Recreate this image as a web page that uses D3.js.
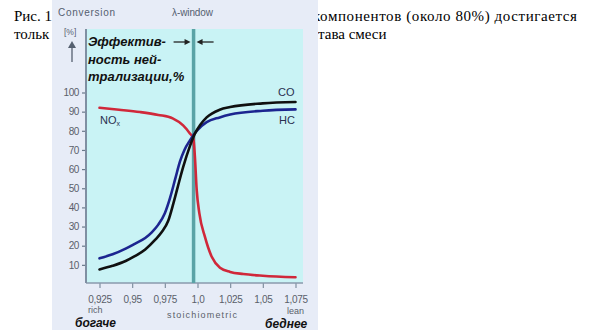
<!DOCTYPE html>
<html><head><meta charset="utf-8">
<script src="https://cdn.jsdelivr.net/npm/d3@7"></script>
<style>body{margin:0;background:#fff}svg{display:block}</style>
</head><body><svg id="c" width="591" height="330"></svg>
<script>
// ---- data ----
const xTicks = [0.925, 0.95, 0.975, 1.0, 1.025, 1.05, 1.075];
const xTickLabels = ["0,925", "0,95", "0,975", "1,0", "1,025", "1,05", "1,075"];
const yTicks = [10, 20, 30, 40, 50, 60, 70, 80, 90, 100];
const lambdaWindow = 0.997;

const lambdaCO = [0.925, 0.935, 0.945, 0.952, 0.96, 0.9675, 0.9725, 0.9776, 0.9815, 0.985, 0.989, 0.9942, 0.998, 1.002, 1.007, 1.017, 1.025, 1.05, 1.075];
const valuesCO = [7.6, 9.5, 12, 14.5, 18, 23, 27, 33, 42, 51, 61, 72, 78.5, 83, 87, 91, 92.4, 94.3, 95];

const lambdaHC = [0.925, 0.935, 0.945, 0.952, 0.96, 0.965, 0.97, 0.975, 0.979, 0.983, 0.9866, 0.99, 0.9942, 0.9994, 1.007, 1.017, 1.025, 1.05, 1.075];
const valuesHC = [13.4, 15.5, 18.5, 21, 24, 27, 31, 37, 45, 55, 64, 70, 75, 80, 84.5, 87, 88.5, 90.5, 91.2];

const lambdaNOx = [0.925, 0.94, 0.956, 0.97, 0.981, 0.989, 0.9942, 0.9968, 0.998, 0.9994, 1.0014, 1.0057, 1.0109, 1.0172, 1.025, 1.035, 1.05, 1.075];
const valuesNOx = [92, 91, 89.8, 88.3, 86.5, 82.8, 78.6, 76, 66.5, 49, 37, 24.6, 14.2, 8.5, 6.3, 5.2, 4.3, 3.5];

// ---- drawing ----
const svg = d3.select("#c");
const serif = "'Liberation Serif','Times New Roman',serif";
const sans = "'Liberation Sans',Arial,sans-serif";

// body text around the picture
const body = svg.append("g").attr("font-family", serif).attr("font-size", 15).attr("fill", "#000");
body.append("text").attr("x", 14).attr("y", 21).text("Рис. 1");
body.append("text").attr("x", 14).attr("y", 39).text("тольк");
body.append("text").attr("x", 313).attr("y", 21).attr("textLength", 264).attr("lengthAdjust", "spacing").text("компонентов (около 80%) достигается");
body.append("text").attr("x", 318).attr("y", 39).text("тава смеси");

// picture background
svg.append("rect").attr("x", 52).attr("y", 0).attr("width", 266).attr("height", 330).attr("fill", "#e7ecf7");

const x = d3.scaleLinear().domain([0.925, 1.075]).range([99.5, 295.5]);
const y = d3.scaleLinear().domain([0, 100]).range([284, 92.5]);

const plotL = 86, plotR = 303, plotT = 29, plotB = 283;
svg.append("rect").attr("x", plotL).attr("y", plotT).attr("width", plotR - plotL).attr("height", plotB - plotT).attr("fill", "#c9f3f5");

// bottom axis
const xa = svg.append("g").attr("transform", `translate(0,${plotB})`)
  .call(d3.axisBottom(x).tickValues(xTicks).tickFormat((d, i) => xTickLabels[i]).tickSize(5).tickPadding(8));
xa.select(".domain").remove();
xa.selectAll("line").attr("stroke", "#8090a0").attr("stroke-width", 1.2);
xa.selectAll("text").attr("font-family", sans).attr("font-size", 10).attr("fill", "#5a5f6a").attr("letter-spacing", -0.3);
svg.append("line").attr("x1", plotL).attr("x2", plotR).attr("y1", plotB).attr("y2", plotB).attr("stroke", "#8a9aac").attr("stroke-width", 1.3);

// left axis
const ya = svg.append("g").attr("transform", `translate(${plotL},0)`)
  .call(d3.axisLeft(y).tickValues(yTicks).tickSize(4).tickPadding(3));
ya.select(".domain").remove();
ya.selectAll("line").attr("stroke", "#6a7a8a").attr("stroke-width", 1.2);
ya.selectAll("text").attr("font-family", sans).attr("font-size", 10).attr("fill", "#5a5f6a").attr("letter-spacing", -0.4);
svg.append("line").attr("x1", plotL).attr("x2", plotL).attr("y1", plotT).attr("y2", plotB).attr("stroke", "#7f8fa2").attr("stroke-width", 2);

// lambda window line
svg.append("line").attr("x1", x(lambdaWindow)).attr("x2", x(lambdaWindow)).attr("y1", plotT).attr("y2", plotB)
  .attr("stroke", "#5aa3a6").attr("stroke-width", 3.5);

// curves
const line = d3.line().x(d => x(d[0])).y(d => y(d[1])).curve(d3.curveMonotoneX);
const series = [
  {lx: lambdaNOx, v: valuesNOx, c: "#d0283a"},
  {lx: lambdaHC, v: valuesHC, c: "#1c2590"},
  {lx: lambdaCO, v: valuesCO, c: "#101010"}
];
series.forEach(s => {
  svg.append("path").datum(s.lx.map((l, i) => [l, s.v[i]]))
    .attr("d", line).attr("fill", "none").attr("stroke", s.c).attr("stroke-width", 2.6).attr("stroke-linecap", "round");
});

// labels
const lab = svg.append("g").attr("font-family", sans).attr("font-size", 11).attr("fill", "#2a3050");
lab.append("text").attr("x", 278).attr("y", 96).text("CO");
lab.append("text").attr("x", 279).attr("y", 124).text("HC");
const nox = lab.append("text").attr("x", 100).attr("y", 124).text("NO");
nox.append("tspan").attr("font-size", 7).attr("dy", 2).text("x");

// header texts
const hdr = svg.append("g").attr("font-family", sans).attr("fill", "#556070");
hdr.append("text").attr("x", 58).attr("y", 16).attr("font-size", 10).attr("textLength", 57).text("Conversion");
hdr.append("text").attr("x", 172).attr("y", 16).attr("font-size", 10).attr("textLength", 41).text("λ-window");
hdr.append("text").attr("x", 64).attr("y", 35).attr("font-size", 8.5).text("[%]");
// up arrow
svg.append("line").attr("x1", 72).attr("x2", 72).attr("y1", 62).attr("y2", 46).attr("stroke", "#556070").attr("stroke-width", 1.3);
svg.append("path").attr("d", "M68,48 L72,41 L76,48 Z").attr("fill", "#556070");

// efficiency title
const tt = svg.append("g").attr("font-family", sans).attr("font-size", 13).attr("font-weight", "bold").attr("font-style", "italic").attr("fill", "#111");
tt.append("text").attr("x", 88).attr("y", 46).text("Эффектив-");
tt.append("text").attr("x", 88).attr("y", 64).text("ность ней-");
tt.append("text").attr("x", 88).attr("y", 81).text("трализации,%");

// window arrows
const xw = x(lambdaWindow);
svg.append("line").attr("x1", xw - 20).attr("x2", xw - 6).attr("y1", 42).attr("y2", 42).attr("stroke", "#222").attr("stroke-width", 1.3);
svg.append("path").attr("d", `M${xw - 9},39 L${xw - 3},42 L${xw - 9},45 Z`).attr("fill", "#222");
svg.append("line").attr("x1", xw + 20).attr("x2", xw + 6).attr("y1", 42).attr("y2", 42).attr("stroke", "#222").attr("stroke-width", 1.3);
svg.append("path").attr("d", `M${xw + 9},39 L${xw + 3},42 L${xw + 9},45 Z`).attr("fill", "#222");

// bottom texts
const bt = svg.append("g").attr("font-family", sans).attr("fill", "#5a5f6a").attr("font-size", 9);
bt.append("text").attr("x", 88).attr("y", 313).text("rich");
bt.append("text").attr("x", 167).attr("y", 318).attr("textLength", 70).text("stoichiometric");
bt.append("text").attr("x", 287).attr("y", 314).text("lean");
const bb = svg.append("g").attr("font-family", sans).attr("fill", "#111").attr("font-size", 12).attr("font-weight", "bold").attr("font-style", "italic");
bb.append("text").attr("x", 75).attr("y", 327).text("богаче");
bb.append("text").attr("x", 265).attr("y", 328).text("беднее");
</script>
</body></html>
